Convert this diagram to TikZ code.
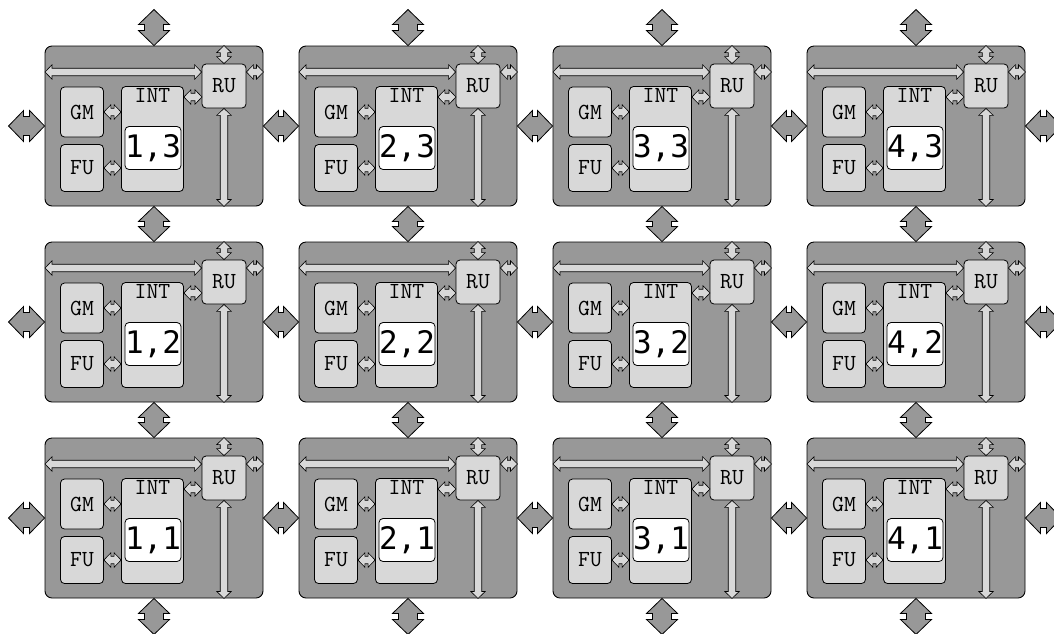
\documentclass[tikz,border=0pt]{standalone}
\usepackage{fontspec}
\usepackage{xcolor}
\usepackage{tikz}
\usetikzlibrary{calc}
\newfontfamily\digitfont{DejaVu Sans Mono}

\definecolor{boardgray}{RGB}{152,152,152}
\definecolor{unitgray}{RGB}{216,216,216}

\tikzset{
  fatarrow/.style n args={3}{% head half width, shaft half width, head length
    to path={
      -- ($(\tikztostart)!#3!(\tikztotarget)!#1!90:(\tikztotarget)$)
      -- ($(\tikztostart)!#3!(\tikztotarget)!#2!90:(\tikztotarget)$)
      -- ($(\tikztotarget)!#3!(\tikztostart)!#2!-90:(\tikztostart)$)
      -- ($(\tikztotarget)!#3!(\tikztostart)!#1!-90:(\tikztostart)$)
      -- (\tikztotarget)
      -- ($(\tikztotarget)!#3!(\tikztostart)!#1!90:(\tikztostart)$)
      -- ($(\tikztotarget)!#3!(\tikztostart)!#2!90:(\tikztostart)$)
      -- ($(\tikztostart)!#3!(\tikztotarget)!#2!-90:(\tikztotarget)$)
      -- ($(\tikztostart)!#3!(\tikztotarget)!#1!-90:(\tikztotarget)$)
      -- cycle
    }
  },
  bigarr/.style={fatarrow={15.5pt}{9.5pt}{15pt}, draw=black, fill=boardgray, line width=0.8pt},
  smallarr/.style={fatarrow={7.25pt}{3.75pt}{7pt}, draw=black, fill=unitgray, line width=0.6pt},
  board/.style={draw=black, fill=boardgray, rounded corners=7pt, inner sep=0pt,
    minimum width=218pt, minimum height=160pt, line width=0.9pt},
  unit/.style={draw=black, fill=unitgray, rounded corners=4pt, inner sep=0pt,
    font=\fontsize{23}{23}\selectfont\ttfamily, line width=0.8pt},
  numbox/.style={draw=black, fill=white, rounded corners=4pt, inner sep=0pt,
    minimum width=54pt, minimum height=43pt,
    font=\fontsize{31}{31}\selectfont\digitfont, line width=0.8pt}
}

\begin{document}
\begin{tikzpicture}[x=1pt, y=-1pt]
    \useasboundingbox (0,0) rectangle (1054,633);

    % tiles
    \foreach \i in {1,...,4} {
      \foreach \j in {1,2,3} {
        \begin{scope}[shift={({45+254*(\i-1)},{46+196*(3-\j)})}]
          \node[board] (c\i\j) at (109,80) {};
          \node[unit, minimum width=44pt, minimum height=44pt] (ru\i\j) at (179,40) {RU};
          \node[unit, minimum width=43pt, minimum height=50pt] (gm\i\j) at (37,66) {GM};
          \node[unit, minimum width=43pt, minimum height=47pt] (fu\i\j) at (37,122) {FU};
          \node[unit, minimum width=62pt, minimum height=105pt,
            label={[anchor=north, inner sep=2.5pt, draw=none, fill=none,
              font=\fontsize{23}{23}\selectfont\ttfamily]north:INT}] (int\i\j) at (107.5,93) {};
          \node[numbox] (id\i\j) at (108,102) {\i,\j};
          \coordinate (bus\i\j) at (0,26);
          \coordinate (lk\i\j) at (157,51);
          % links inside the tile
          \draw[smallarr] (bus\i\j) to (bus\i\j -| ru\i\j.west);
          \draw[smallarr] (bus\i\j -| ru\i\j.east) to (bus\i\j -| c\i\j.east);
          \draw[smallarr] (ru\i\j.north) to (ru\i\j.north |- c\i\j.north);
          \draw[smallarr] (ru\i\j.south) to (ru\i\j.south |- c\i\j.south);
          \draw[smallarr] (lk\i\j) to (lk\i\j -| int\i\j.east);
          \draw[smallarr] (gm\i\j.east) to (gm\i\j.east -| int\i\j.west);
          \draw[smallarr] (fu\i\j.east) to (fu\i\j.east -| int\i\j.west);
        \end{scope}
      }
    }

    % links between tiles
    \foreach \i [count=\k from 2] in {1,2,3}
      \foreach \j in {1,2,3}
        \draw[bigarr] (c\i\j.east) to (c\k\j.west);
    \foreach \j [count=\k from 2] in {1,2}
      \foreach \i in {1,...,4}
        \draw[bigarr] (c\i\j.north) to (c\i\k.south);

    % open ends
    \foreach \j in {1,2,3} {
      \coordinate (lft\j) at ([xshift=-36pt]c1\j.west);
      \coordinate (rgt\j) at ([xshift=36pt]c4\j.east);
      \draw[bigarr] (c1\j.west) to (lft\j);
      \draw[bigarr] (c4\j.east) to (rgt\j);
    }
    \foreach \i in {1,...,4} {
      \coordinate (top\i) at ([yshift=36pt]c\i3.north);
      \coordinate (bot\i) at ([yshift=-36pt]c\i1.south);
      \draw[bigarr] (c\i3.north) to (top\i);
      \draw[bigarr] (c\i1.south) to (bot\i);
    }
\end{tikzpicture}
\end{document}
